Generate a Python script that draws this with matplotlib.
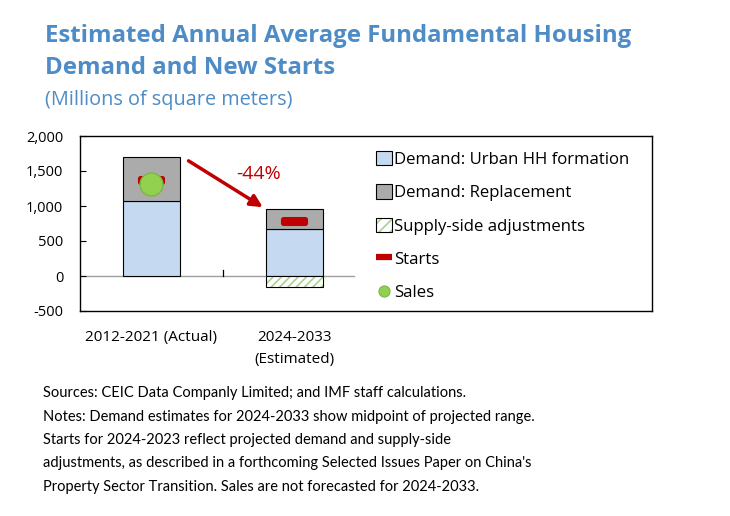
import matplotlib
matplotlib.use('Agg')
import matplotlib.pyplot as plt
from matplotlib.patches import Patch, FancyBboxPatch
from matplotlib.lines import Line2D
from matplotlib.legend_handler import HandlerTuple

# ---------------- data ----------------
categories = ['2012-2021 (Actual)', '2024-2033\n(Estimated)']
urban_hh = [1065, 676]
replacement = [630, 277]
supply_adj = [0, -161]
starts = [1375, 790]
sales = [1320, None]
yticks = [-500, 0, 500, 1000, 1500, 2000]
change_label = '-44%'

title_lines = ['Estimated Annual Average Fundamental Housing',
               'Demand and New Starts']
subtitle = '(Millions of square meters)'
note_lines = [
    'Sources: CEIC Data Companly Limited; and IMF staff calculations.',
    'Notes: Demand estimates for 2024-2033 show midpoint of projected range.',
    'Starts for 2024-2023 reflect projected demand and supply-side',
    "adjustments, as described in a forthcoming Selected Issues Paper on China's",
    'Property Sector Transition. Sales are not forecasted for 2024-2033.',
]
legend_labels = ['Demand: Urban HH formation', 'Demand: Replacement',
                 'Supply-side adjustments', 'Starts', 'Sales']

# ---------------- style ----------------
C_BLUE = '#C5D9F1'
C_GRAY = '#ABABAB'
C_HATCH = '#A9D18E'
C_RED = '#C00000'
C_GREEN = '#92D050'
C_TITLE = '#4D8CC6'
W, H = 730, 516

plt.rcParams['font.family'] = ['Open Sans', 'DejaVu Sans']
plt.rcParams['hatch.linewidth'] = 1.2

fig = plt.figure(figsize=(W / 100, H / 100), dpi=100)
ax = fig.add_axes([80 / W, 1 - 311 / H, (652 - 80) / W, (311 - 136) / H])

x = list(range(len(categories)))
bw = 0.4

# zero line
ax.plot([-0.5, 1.42], [0, 0], color='#A0A0A0', lw=1.0, zorder=0.5)

ax.bar(x, urban_hh, width=bw, color=C_BLUE, edgecolor='black', lw=0.8, zorder=2)
ax.bar(x, replacement, bottom=urban_hh, width=bw, color=C_GRAY,
       edgecolor='black', lw=0.8, zorder=2)
sx = [xi for xi, v in zip(x, supply_adj) if v != 0]
sv = [v for v in supply_adj if v != 0]
ax.bar(sx, sv, width=bw, color='white', edgecolor=C_HATCH, hatch='////',
       lw=0, zorder=2)
ax.bar(sx, sv, width=bw, fill=False, edgecolor='black', lw=0.8, zorder=2.1)

# starts marker: rounded rectangle
rr = FancyBboxPatch((-1.5, -0.5), 3, 1, boxstyle='round,pad=0,rounding_size=0.3')
starts_path = rr.get_path()
ax.plot(x, starts, ls='none', marker=starts_path, ms=19.5, mfc=C_RED,
        mec=C_RED, mew=0, zorder=3)
sx2 = [xi for xi, v in zip(x, sales) if v is not None]
sv2 = [v for v in sales if v is not None]
ax.plot(sx2, sv2, ls='none', marker='o', ms=16.5, mfc=C_GREEN,
        mec='#7DB646', mew=1.0, zorder=4)

# arrow showing the change in total demand
tot = [u + r for u, r in zip(urban_hh, replacement)]
ax.annotate('', xy=(x[1] - 0.22, tot[1] + 30), xytext=(x[0] + 0.26, tot[0] - 50),
            arrowprops=dict(arrowstyle='-|>', color=C_RED, lw=2.5,
                            mutation_scale=18, shrinkA=0, shrinkB=0), zorder=5)
ax.text(0.75, (tot[0] + tot[1]) / 2 + 130, change_label, color=C_RED,
        fontsize=14, ha='center', va='center')

# category boundary tick on the zero line
ax.plot([0.5, 0.5], [0, 86], color='black', lw=0.9, zorder=1)

ax.set_xlim(-0.5, 3.505)
ax.set_ylim(-500, 2000)
ax.set_yticks(yticks)
ax.set_yticklabels([f'{v:,}' for v in yticks])
ax.set_xticks(x)
ax.set_xticklabels(categories, linespacing=1.6)
ax.tick_params(axis='y', direction='in', length=4.5, width=0.8, pad=12,
               labelsize=10.5)
ax.tick_params(axis='x', length=0, pad=14, labelsize=11)
for s in ax.spines.values():
    s.set_linewidth(1.0)
    s.set_color('black')

# legend
h_hatch = (Patch(facecolor='white', edgecolor=C_HATCH, hatch='///', lw=0),
           Patch(fill=False, edgecolor='black', lw=0.8))
handles = [Patch(facecolor=C_BLUE, edgecolor='black', lw=0.8),
           Patch(facecolor=C_GRAY, edgecolor='black', lw=0.8),
           h_hatch,
           Line2D([], [], color=C_RED, lw=4.5, solid_capstyle='butt'),
           Line2D([], [], ls='none', marker='o', ms=8, mfc=C_GREEN,
                  mec='#7DB646', mew=0.8)]
fig.legend(handles, legend_labels, loc='upper left',
           bbox_to_anchor=(376 / W, 1 - 151 / H), frameon=False,
           fontsize=12.1, handlelength=0.95, handleheight=0.95,
           handletextpad=0.15, labelspacing=0.97, borderpad=0,
           borderaxespad=0,
           handler_map={tuple: HandlerTuple(ndivide=1, pad=0)})

# titles
for i, t in enumerate(title_lines):
    fig.text(45 / W, 1 - (42 + 32 * i) / H, t, fontsize=17.25, fontweight='bold',
             color=C_TITLE, va='baseline', ha='left')
fig.text(45 / W, 1 - 105 / H, subtitle, fontsize=14.3, color=C_TITLE,
         va='baseline', ha='left')

# notes
for i, t in enumerate(note_lines):
    fig.text(43 / W, 1 - (397 + 23.5 * i) / H, t, fontsize=10.5,
             family=['Lato', 'DejaVu Sans'], color='black',
             va='baseline', ha='left')

fig.savefig('out.png', dpi=100)
